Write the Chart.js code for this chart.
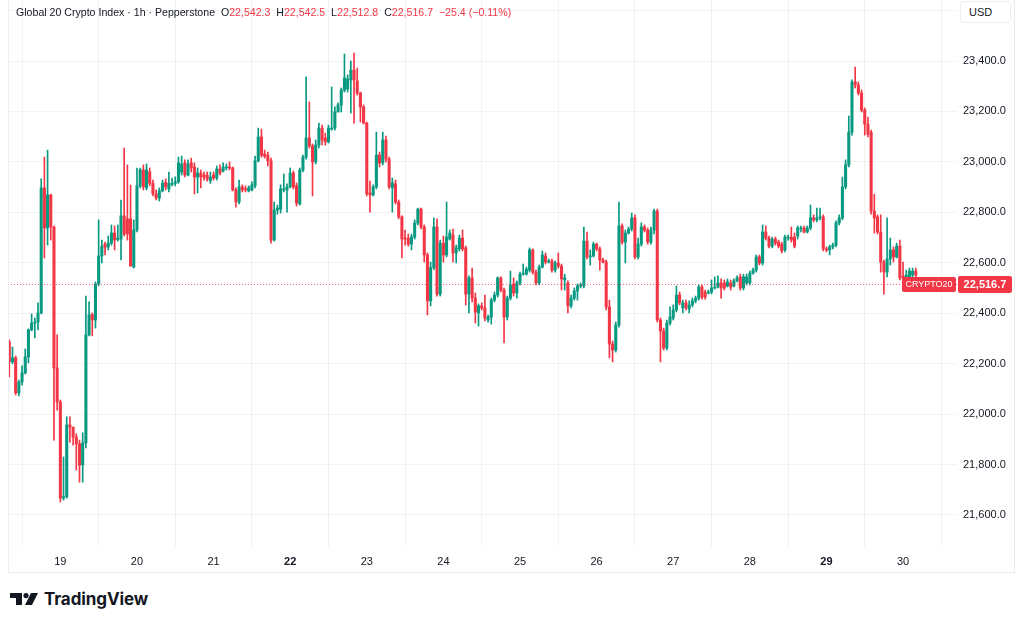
<!DOCTYPE html>
<html>
<head>
<meta charset="utf-8">
<title>Global 20 Crypto Index - 1h</title>
<script src="https://cdn.jsdelivr.net/npm/chart.js@4.4.1/dist/chart.umd.min.js"></script>
<style>
  html, body { margin: 0; padding: 0; background: #fff; }
  body { width: 1024px; height: 626px; position: relative; overflow: hidden;
         font-family: "Liberation Sans", Arial, sans-serif; color: #131722; }
  #wrap { position: absolute; left: 8px; top: 0; width: 1006px; height: 572px; }
  #frame { position: absolute; left: 8px; top: -1px; width: 1005px; height: 572px;
           border: 1px solid #ececef; pointer-events: none; }
  #hdr { position: absolute; left: 16px; top: 6px; font-size: 10.6px; white-space: pre; }
  #hdr .v { color: #f23645; }
  #usd { position: absolute; left: 960px; top: 1px; width: 51px; height: 22px; background: #fff;
         border: 1px solid #eceef2; border-radius: 4px; box-sizing: border-box;
         font-size: 11px; line-height: 20px; padding-left: 8px; }
  #logo { position: absolute; left: 10px; top: 589px; display: flex; align-items: center; }
  #logo span { font-family: Inter, "Liberation Sans", sans-serif; font-weight: 700; font-size: 17px;
               letter-spacing: -0.1px; margin-left: 6px; color: #131722; }
</style>
</head>
<body>
<div id="wrap"><canvas id="chart"></canvas></div>
<div id="frame"></div>
<div id="hdr">Global 20 Crypto Index · 1h · Pepperstone  O<span class="v">22,542.3</span>  H<span class="v">22,542.5</span>  L<span class="v">22,512.8</span>  C<span class="v">22,516.7</span>  <span class="v">−25.4 (−0.11%)</span></div>
<div id="usd">USD</div>
<div id="logo">
  <svg width="28" height="14" viewBox="0 0 28 14">
    <rect x="0" y="1" width="12" height="5" fill="#131722"/>
    <rect x="6" y="1" width="6" height="12" fill="#131722"/>
    <circle cx="16" cy="3.6" r="2.6" fill="#131722"/>
    <polygon points="21,1 28,1 22,13 15,13" fill="#131722"/>
  </svg>
  <span>TradingView</span>
</div>
<script>
// hourly candles, first one is Nov 18 08:00 (hour -16 counted from Nov 19 00:00)
var firstHour = -16;
var dayLabels = ['19','20','21','22','23','24','25','26','27','28','29','30'];
var boldDays = ['22','29'];
var yTickValues = [21600,21800,22000,22200,22400,22600,22800,23000,23200,23400,23600];

var opens = [
  22286,22207,22223,22084,22127,22163,22227,22334,22361,22365,22401,22897,22738,22869,22742,22183,22048,21667,21672,21957,
  21949,21909,21882,21798,21886,22314,22394,22373,22516,22627,22674,22662,22678,22718,22692,22694,22786,22774,22774,22583,
  22730,22905,22968,22897,22960,22915,22873,22857,22885,22919,22893,22911,22915,22921,22960,22996,22948,22996,22980,22940,
  22956,22948,22948,22925,22948,22936,22972,22964,22976,22980,22976,22889,22841,22901,22893,22885,22889,22905,23004,23099,
  23031,23027,23004,22690,22809,22813,22889,22889,22901,22956,22905,22833,22968,23019,23095,23063,23000,23067,23134,23095,
  23079,23130,23134,23198,23226,23285,23289,23325,23364,23321,23273,23218,23154,22877,22869,22901,23027,22996,23087,23011,
  22897,22913,22841,22782,22698,22698,22674,22702,22758,22813,22742,22631,22449,22581,22742,22476,22678,22631,22694,22710,
  22639,22655,22698,22659,22476,22540,22460,22401,22429,22421,22373,22385,22452,22472,22540,22492,22385,22460,22516,22480,
  22520,22555,22555,22571,22651,22563,22520,22583,22627,22603,22607,22571,22599,22587,22532,22520,22429,22460,22488,22508,
  22508,22686,22623,22627,22674,22655,22611,22603,22425,22278,22254,22353,22746,22682,22718,22734,22778,22623,22674,22742,
  22730,22682,22730,22805,22373,22330,22262,22361,22381,22413,22472,22421,22441,22417,22433,22449,22460,22504,22484,22480,
  22484,22500,22504,22520,22520,22508,22520,22508,22528,22544,22500,22520,22520,22559,22571,22623,22599,22722,22698,22666,
  22694,22682,22674,22651,22698,22702,22702,22706,22734,22738,22722,22738,22778,22770,22778,22782,22655,22651,22663,22670,
  22758,22778,22901,22988,23118,23317,23305,23273,23206,23150,23118,22805,22782,22722,22603,22563,22615,22651,22623,22666,
  22548,22540,22544,22551,22567,22542.3
];
var highs = [
  22294,22266,22230,22135,22191,22258,22338,22397,22381,22441,22933,23019,23047,22872,22746,22314,22056,21830,21989,21989,
  21945,21922,21897,21926,22468,22445,22401,22524,22770,22690,22682,22706,22750,22746,22750,22849,23055,22988,22908,22770,
  22976,22976,22988,22992,22976,22928,22889,22897,22928,22933,22960,22936,22941,23019,23023,23008,23008,23015,22996,22976,
  22968,22960,22960,22960,22960,22984,22988,22996,22992,23000,22980,22897,22928,22909,22905,22905,22921,23023,23134,23130,
  23047,23039,23015,22841,22829,22909,22952,22913,22976,22964,22917,22976,23027,23337,23238,23071,23087,23154,23146,23114,
  23146,23297,23218,23234,23293,23428,23345,23400,23432,23372,23277,23226,23158,22924,22909,23118,23039,23118,23102,23019,
  22936,22928,22849,22786,22730,22714,22714,22770,22817,22817,22750,22639,22603,22778,22774,22690,22706,22841,22730,22734,
  22670,22710,22730,22666,22548,22579,22480,22437,22441,22472,22393,22460,22484,22544,22544,22500,22468,22567,22540,22528,
  22563,22595,22583,22659,22655,22571,22591,22647,22639,22615,22615,22607,22639,22595,22555,22528,22472,22500,22516,22520,
  22742,22722,22651,22682,22678,22663,22619,22611,22452,22290,22365,22841,22754,22730,22742,22797,22790,22698,22758,22750,
  22738,22742,22813,22813,22381,22341,22373,22425,22433,22508,22484,22452,22452,22449,22460,22468,22512,22512,22492,22492,
  22532,22544,22548,22536,22532,22536,22532,22536,22548,22555,22555,22555,22567,22579,22631,22631,22750,22746,22706,22702,
  22702,22690,22682,22710,22710,22742,22718,22746,22746,22746,22746,22829,22790,22817,22817,22790,22663,22670,22678,22766,
  22790,22940,23008,23182,23325,23376,23317,23285,23214,23178,23126,22872,22790,22790,22611,22778,22698,22663,22678,22690,
  22603,22571,22579,22579,22579,22542.5
];
var lows = [
  22147,22200,22076,22072,22115,22159,22203,22330,22302,22334,22397,22619,22670,22690,21897,22016,21651,21659,21667,21889,
  21877,21778,21730,21730,21866,22310,22310,22341,22508,22599,22631,22651,22670,22651,22686,22611,22706,22690,22587,22579,
  22722,22897,22889,22889,22905,22865,22849,22845,22881,22889,22881,22905,22905,22915,22948,22940,22944,22960,22873,22877,
  22897,22928,22924,22915,22928,22928,22948,22960,22968,22968,22885,22821,22833,22881,22881,22881,22885,22897,23000,23019,
  23015,22984,22678,22686,22793,22797,22881,22801,22897,22893,22825,22829,22960,23011,23055,22865,22992,23055,23067,23067,
  23075,23126,23126,23198,23198,23277,23277,23194,23154,23265,23158,23150,22865,22801,22865,22893,22980,22988,23000,22893,
  22801,22833,22774,22619,22670,22666,22651,22694,22750,22734,22603,22393,22429,22573,22468,22468,22603,22623,22690,22603,
  22599,22647,22647,22433,22401,22445,22361,22349,22413,22369,22365,22357,22445,22464,22484,22282,22373,22452,22468,22460,
  22512,22551,22551,22563,22555,22512,22512,22579,22595,22599,22563,22563,22579,22492,22492,22401,22421,22452,22452,22500,
  22500,22615,22591,22623,22647,22571,22599,22413,22223,22207,22246,22345,22674,22599,22714,22726,22615,22615,22666,22722,
  22674,22674,22714,22365,22207,22254,22254,22353,22373,22405,22433,22401,22413,22401,22425,22441,22452,22456,22456,22476,
  22476,22496,22500,22460,22492,22504,22492,22504,22524,22492,22492,22512,22512,22555,22563,22591,22591,22690,22659,22659,
  22670,22659,22639,22643,22690,22682,22659,22694,22722,22718,22718,22730,22762,22762,22770,22647,22643,22631,22655,22663,
  22750,22770,22893,22980,23106,23293,23265,23198,23106,23099,22793,22718,22714,22563,22476,22544,22591,22603,22619,22532,
  22528,22532,22540,22544,22544,22512.8
];
var closes = [
  22207,22223,22084,22127,22163,22227,22334,22361,22365,22401,22897,22738,22869,22742,22183,22048,21667,21672,21957,21949,
  21909,21882,21798,21886,22314,22394,22373,22516,22627,22666,22662,22678,22718,22690,22698,22786,22714,22714,22587,22730,
  22905,22968,22901,22968,22915,22873,22857,22885,22915,22901,22915,22915,22921,22996,22992,22948,22992,22976,22940,22956,
  22940,22940,22932,22940,22936,22972,22956,22980,22980,22976,22889,22841,22901,22889,22889,22897,22909,23004,23099,23027,
  23023,23004,22690,22809,22817,22893,22893,22901,22956,22901,22837,22968,23019,23095,23063,23000,23067,23134,23087,23079,
  23134,23134,23198,23226,23285,23333,23329,23364,23325,23273,23218,23154,22873,22869,22901,23027,22996,23087,23011,22901,
  22917,22841,22782,22694,22694,22674,22702,22758,22813,22742,22631,22449,22581,22742,22476,22678,22631,22702,22718,22639,
  22659,22698,22655,22476,22540,22460,22405,22429,22421,22381,22385,22452,22472,22540,22492,22385,22460,22512,22480,22520,
  22555,22559,22575,22651,22563,22520,22583,22631,22603,22607,22571,22599,22587,22536,22540,22429,22460,22488,22508,22512,
  22686,22623,22627,22674,22655,22611,22603,22425,22278,22254,22353,22746,22682,22718,22734,22778,22623,22674,22742,22730,
  22682,22730,22805,22373,22330,22262,22361,22385,22413,22472,22441,22441,22421,22433,22449,22460,22504,22464,22464,22484,
  22500,22504,22520,22500,22500,22524,22504,22528,22540,22500,22544,22544,22559,22571,22623,22599,22722,22698,22666,22694,
  22678,22666,22647,22702,22702,22690,22666,22738,22738,22722,22738,22778,22770,22778,22782,22655,22651,22663,22670,22758,
  22778,22901,22988,23118,23317,23305,23273,23206,23150,23110,22805,22778,22722,22603,22563,22615,22651,22623,22666,22540,
  22540,22551,22567,22567,22551,22516.7
];

var upColor = '#089981';
var downColor = '#f23645';
var fontFamily = '"Liberation Sans", Arial, sans-serif';

var wicks = [], bodies = [], colors = [];
for (var i = 0; i < closes.length; i++) {
  var x = firstHour + i;
  wicks.push({ x: x, y: [lows[i], highs[i]] });
  bodies.push({ x: x, y: [opens[i], closes[i]] });
  colors.push(closes[i] >= opens[i] ? upColor : downColor);
}

function fmt(v) {
  return v.toLocaleString('en-US', { minimumFractionDigits: 1, maximumFractionDigits: 1 });
}

// dotted last-price line with the two red tags on the right
var lastPrice = {
  id: 'lastPrice',
  afterDraw: function (chart) {
    var ctx = chart.ctx, area = chart.chartArea;
    var v = closes[closes.length - 1];
    var y = Math.round(chart.scales.y.getPixelForValue(v)) + 0.5;
    ctx.save();
    ctx.strokeStyle = 'rgba(242,54,69,0.75)';
    ctx.lineWidth = 1;
    ctx.setLineDash([1, 2]);
    ctx.beginPath();
    ctx.moveTo(area.left, y);
    ctx.lineTo(area.right, y);
    ctx.stroke();
    ctx.setLineDash([]);
    ctx.fillStyle = downColor;
    ctx.beginPath();
    ctx.roundRect(area.right - 55, y - 7.5, 54, 15, 2);
    ctx.fill();
    ctx.beginPath();
    ctx.roundRect(area.right + 1, y - 8.5, 54, 17, 2);
    ctx.fill();
    ctx.fillStyle = '#fff';
    ctx.textBaseline = 'middle';
    ctx.textAlign = 'center';
    ctx.font = '9px ' + fontFamily;
    ctx.fillText('CRYPTO20', area.right - 28, y + 0.5);
    ctx.font = 'bold 11px ' + fontFamily;
    ctx.fillText(fmt(v), area.right + 28, y + 0.5);
    ctx.restore();
  }
};

new Chart(document.getElementById('chart'), {
  type: 'bar',
  data: {
    datasets: [
      { label: 'bodies', data: bodies, backgroundColor: colors, barThickness: 2.4,
        minBarLength: 1, grouped: false, order: 0 },
      { label: 'wicks', data: wicks, backgroundColor: colors, barThickness: 1,
        grouped: false, order: 1 }
    ]
  },
  options: {
    responsive: true,
    maintainAspectRatio: false,
    animation: false,
    events: [],
    layout: { padding: 0 },
    plugins: { legend: { display: false }, tooltip: { enabled: false } },
    scales: {
      x: {
        type: 'linear',
        min: -16.4,
        max: 280.9,
        offset: false,
        afterBuildTicks: function (s) {
          s.ticks = dayLabels.map(function (d, k) { return { value: k * 24 }; });
        },
        afterFit: function (s) { s.height = 25; s.paddingLeft = 0; s.paddingRight = 0; },
        grid: { color: 'rgba(42,46,57,0.06)', drawTicks: false },
        border: { display: false },
        ticks: {
          autoSkip: false, maxRotation: 0, padding: 8, color: '#131722',
          callback: function (v, idx) { return dayLabels[idx]; },
          font: function (c) {
            var d = dayLabels[c.index];
            return { family: fontFamily, size: 11, weight: boldDays.indexOf(d) >= 0 ? 'bold' : 'normal' };
          }
        }
      },
      y: {
        position: 'right',
        min: 21473,
        max: 23642,
        afterBuildTicks: function (s) {
          s.ticks = yTickValues.map(function (v) { return { value: v }; });
        },
        afterFit: function (s) { s.width = 57; s.paddingTop = 0; s.paddingBottom = 0; },
        grid: { color: 'rgba(42,46,57,0.06)', drawTicks: false },
        border: { display: false },
        ticks: {
          padding: 6, color: '#131722',
          font: { family: fontFamily, size: 11 },
          callback: function (v) { return fmt(v); }
        }
      }
    }
  },
  plugins: [lastPrice]
});
</script>
</body>
</html>
